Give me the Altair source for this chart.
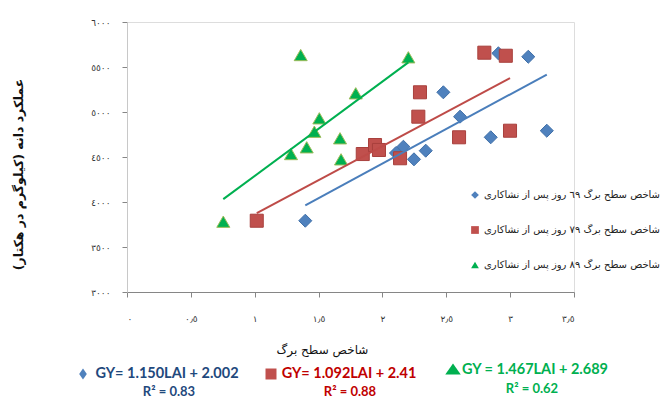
import json
import altair as alt
import pandas as pd

# ---------------- data ----------------
series_names = [
    "شاخص سطح برگ  ٦٩ روز پس از نشاکاری",
    "شاخص سطح برگ  ٧٩ روز پس از نشاکاری",
    "شاخص سطح برگ  ٨٩ روز پس از نشاکاری",
]

lai_69 = [2.908, 3.142, 2.477, 2.608, 2.848, 3.287, 2.164, 2.339, 2.247, 2.106, 1.396]
gy_69 = [5652, 5614, 5219, 4948, 4719, 4792, 4614, 4570, 4474, 4544, 3792]

lai_79 = [2.798, 2.966, 2.294, 2.281, 2.600, 2.999, 1.846, 1.942, 1.973, 2.138, 1.016]
gy_79 = [5659, 5625, 5219, 4948, 4719, 4792, 4533, 4633, 4578, 4486, 3792]

lai_89 = [1.360, 2.203, 1.791, 1.506, 1.467, 1.668, 1.284, 1.407, 1.676, 0.754]
gy_89 = [5633, 5608, 5208, 4930, 4781, 4708, 4533, 4608, 4474, 3781]

x_ticks = [0, 0.5, 1, 1.5, 2, 2.5, 3, 3.5]
x_tick_labels = ["٠", "٠٫٥", "١", "١٫٥", "٢", "٢٫٥", "٣", "٣٫٥"]
y_ticks = [3000, 3500, 4000, 4500, 5000, 5500, 6000]
y_tick_labels = ["٣٠٠٠", "٣٥٠٠", "٤٠٠٠", "٤٥٠٠", "٥٠٠٠", "٥٥٠٠", "٦٠٠٠"]

x_title = "شاخص سطح برگ"
y_title = "عملکرد دانه (کیلوگرم در هکتار)"

equations = ["GY= 1.150LAI + 2.002", "GY= 1.092LAI + 2.41", "GY = 1.467LAI + 2.689"]
r2_labels = ["R² = 0.83", "R² = 0.88", "R² = 0.62"]

# ---------------- styles ----------------
fill_colors = ["#4F81BD", "#C0504D", "#00B050"]
stroke_colors = ["#3F6FA8", "#A8403D", "#9BBB59"]
line_colors = ["#4A7EBB", "#BE4B48", "#00B050"]
text_colors = ["#1F497D", "#C00000", "#00B050"]
shapes = ["diamond", "square", "triangle-up"]
FONT = "DejaVu Sans"

rows = []
for name, xs, ys in [(series_names[0], lai_69, gy_69),
                     (series_names[1], lai_79, gy_79),
                     (series_names[2], lai_89, gy_89)]:
    for a, b in zip(xs, ys):
        rows.append({"series": name, "lai": a, "gy": b})
df = pd.DataFrame(rows)

x_expr = f"{json.dumps(x_tick_labels, ensure_ascii=False)}[indexof({json.dumps(x_ticks)}, datum.value)]"
y_expr = f"{json.dumps(y_tick_labels, ensure_ascii=False)}[indexof({json.dumps(y_ticks)}, datum.value)]"

x_enc = alt.X(
    "lai:Q",
    scale=alt.Scale(domain=[0, 3.5], nice=False, zero=False),
    axis=alt.Axis(
        values=x_ticks, labelExpr=x_expr, grid=False,
        domainColor="#868686", tickColor="#868686", tickSize=5,
        labelFont=FONT, labelFontSize=9, labelColor="#333333", labelPadding=17,
        title=x_title, titleFont=FONT, titleFontSize=12, titleFontWeight="normal",
        titleColor="#111111", titleX=195, titleY=57, titleAlign="center",
        titleBaseline="middle",
    ),
)
y_enc = alt.Y(
    "gy:Q",
    scale=alt.Scale(domain=[3000, 6000], nice=False, zero=False),
    axis=alt.Axis(
        values=y_ticks, labelExpr=y_expr, grid=False,
        domainColor="#C8C8C8", tickColor="#868686", tickSize=5,
        labelFont=FONT, labelFontSize=9, labelColor="#333333", labelPadding=12,
        title=y_title, titleFont=FONT, titleFontSize=12.5, titleFontWeight="bold",
        titleColor="#111111", titleX=-109, titleY=152, titleAlign="center",
        titleBaseline="middle", titleAngle=270,
    ),
)

legend = alt.Legend(
    title=None, orient="none", legendX=343, legendY=168,
    labelFont=FONT, labelFontSize=10, labelColor="#222222", labelLimit=400,
    symbolSize=60, rowPadding=25, labelOffset=4, padding=0,
    symbolStrokeWidth=0,
)

base = alt.Chart(df)

points = base.mark_point(filled=True, size=170, strokeWidth=1, opacity=1).encode(
    x=x_enc,
    y=y_enc,
    color=alt.Color("series:N", scale=alt.Scale(domain=series_names, range=fill_colors), legend=legend),
    shape=alt.Shape("series:N", scale=alt.Scale(domain=series_names, range=shapes), legend=legend),
    stroke=alt.Stroke("series:N", scale=alt.Scale(domain=series_names, range=stroke_colors), legend=None),
)

lines = []
for name, c in zip(series_names, line_colors):
    lines.append(
        base.transform_filter(alt.datum.series == name)
        .transform_regression("lai", "gy")
        .mark_line(color=c, strokeWidth=2)
        .encode(x="lai:Q", y="gy:Q")
    )

# annotation layout (pixel positions in plot coordinates)
eq_pos = [(40, 352), (222, 352), (408, 348)]
r2_pos = [(42, 370), (223, 370), (405, 367)]
sym_pos = [(-44, 352), (144, 352), (326, 347)]
sym_shapes = ["M-0.7,0L0,-1L0.7,0L0,1Z", "square", "M-1,0.7L0,-0.7L1,0.7Z"]
sym_sizes = [120, 121, 240]

annots = []
for i in range(3):
    d_eq = pd.DataFrame({"t": [equations[i]]})
    d_r2 = pd.DataFrame({"t": [r2_labels[i]]})
    annots.append(
        alt.Chart(d_eq).mark_text(font="Lato", fontSize=14.5, fontWeight="bold",
                                  color=text_colors[i], align="center", baseline="middle")
        .encode(x=alt.value(eq_pos[i][0]), y=alt.value(eq_pos[i][1]), text="t:N")
    )
    annots.append(
        alt.Chart(d_r2).mark_text(font="Lato", fontSize=13, fontWeight="bold",
                                  color=text_colors[i], align="center", baseline="middle")
        .encode(x=alt.value(r2_pos[i][0]), y=alt.value(r2_pos[i][1]), text="t:N")
    )
    annots.append(
        alt.Chart(d_eq).mark_point(shape=sym_shapes[i], filled=True, size=sym_sizes[i],
                                   color=fill_colors[i], opacity=1)
        .encode(x=alt.value(sym_pos[i][0]), y=alt.value(sym_pos[i][1]))
    )

chart = alt.layer(points, *lines, *annots).properties(
    width=447, height=270,
    autosize=alt.AutoSizeParams(type="none"),
    padding={"left": 119, "top": 14, "right": 87, "bottom": 108},
).configure_view(stroke=None).configure(background="white")

chart.save("out.html", embed_options={"renderer": "svg", "actions": False})
